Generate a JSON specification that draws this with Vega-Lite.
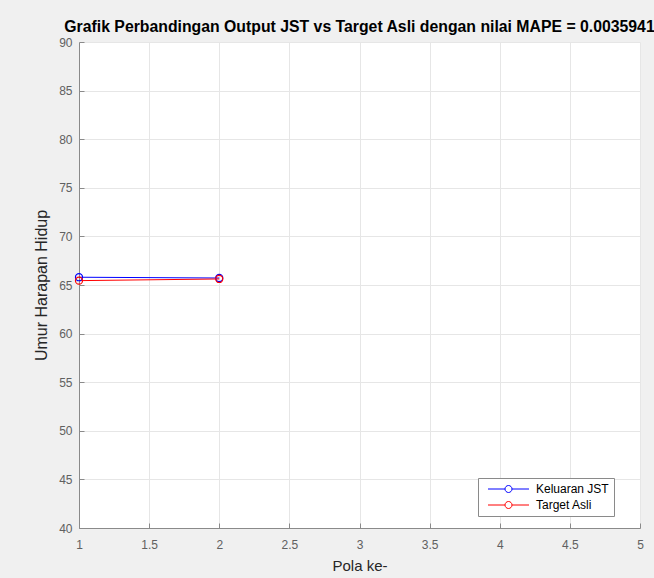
{
  "$schema": "https://vega.github.io/schema/vega-lite/v6.json",
  "width": 561,
  "height": 486,
  "autosize": {"type": "none"},
  "padding": {"left": 79, "top": 42, "right": 14, "bottom": 50},
  "background": "#f0f0f0",
  "title": {
    "text": "Grafik Perbandingan Output JST vs Target Asli dengan nilai MAPE = 0.0035941",
    "font": "Liberation Sans",
    "fontSize": 15.8,
    "fontWeight": "bold",
    "color": "#000000",
    "anchor": "middle",
    "frame": "group",
    "offset": 1,
    "dy": 1
  },
  "config": {
    "view": {"fill": "white", "stroke": null},
    "axis": {
      "domainColor": "#8a8a8a",
      "domainWidth": 1,
      "tickColor": "#8a8a8a",
      "tickSize": -5,
      "gridColor": "#e6e6e6",
      "gridWidth": 1,
      "labelColor": "#606060",
      "labelFont": "Liberation Sans",
      "labelFontSize": 12,
      "titleFont": "Liberation Sans",
      "titleFontSize": 15,
      "titleFontWeight": "normal",
      "titleColor": "#262626"
    },
    "legend": {
      "labelFont": "Liberation Sans",
      "labelFontSize": 12,
      "labelColor": "#000000"
    }
  },
  "data": {
    "values": [
      {"pola": 1, "nilai": 65.8, "seri": "Keluaran JST"},
      {"pola": 2, "nilai": 65.72, "seri": "Keluaran JST"},
      {"pola": 1, "nilai": 65.45, "seri": "Target Asli"},
      {"pola": 2, "nilai": 65.62, "seri": "Target Asli"}
    ]
  },
  "encoding": {
    "x": {
      "field": "pola",
      "type": "quantitative",
      "scale": {"domain": [1, 5], "nice": false, "zero": false},
      "axis": {
        "title": "Pola ke-",
        "values": [1, 1.5, 2, 2.5, 3, 3.5, 4, 4.5, 5],
        "format": "~g",
        "labelPadding": 16,
        "titlePadding": 8,
        "labelFlush": false
      }
    },
    "y": {
      "field": "nilai",
      "type": "quantitative",
      "scale": {"domain": [40, 90], "nice": false, "zero": false},
      "axis": {
        "title": "Umur Harapan Hidup",
        "titleFontSize": 16,
        "values": [40, 45, 50, 55, 60, 65, 70, 75, 80, 85, 90],
        "labelPadding": 12,
        "titlePadding": 9,
        "labelFlush": false
      }
    },
    "color": {
      "field": "seri",
      "type": "nominal",
      "scale": {"domain": ["Keluaran JST", "Target Asli"], "range": ["#0000ff", "#ff0000"]},
      "legend": {
        "title": null,
        "orient": "none",
        "legendX": 399,
        "legendY": 436,
        "fillColor": "white",
        "strokeColor": "#8a8a8a",
        "padding": 5,
        "rowPadding": 4,
        "symbolType": "M-4.1,0L-0.7,0M0.7,0L4.1,0M-0.7,0A0.7,0.7 0 1,0 0.7,0A0.7,0.7 0 1,0 -0.7,0",
        "symbolSize": 100,
        "symbolStrokeWidth": 1,
        "symbolFillColor": "transparent",
        "symbolOffset": 19.5,
        "labelOffset": 21.5
      }
    }
  },
  "layer": [
    {"mark": {"type": "line", "strokeWidth": 1}},
    {"mark": {"type": "point", "shape": "circle", "filled": false, "size": 50, "strokeWidth": 1.2, "opacity": 1}}
  ]
}
